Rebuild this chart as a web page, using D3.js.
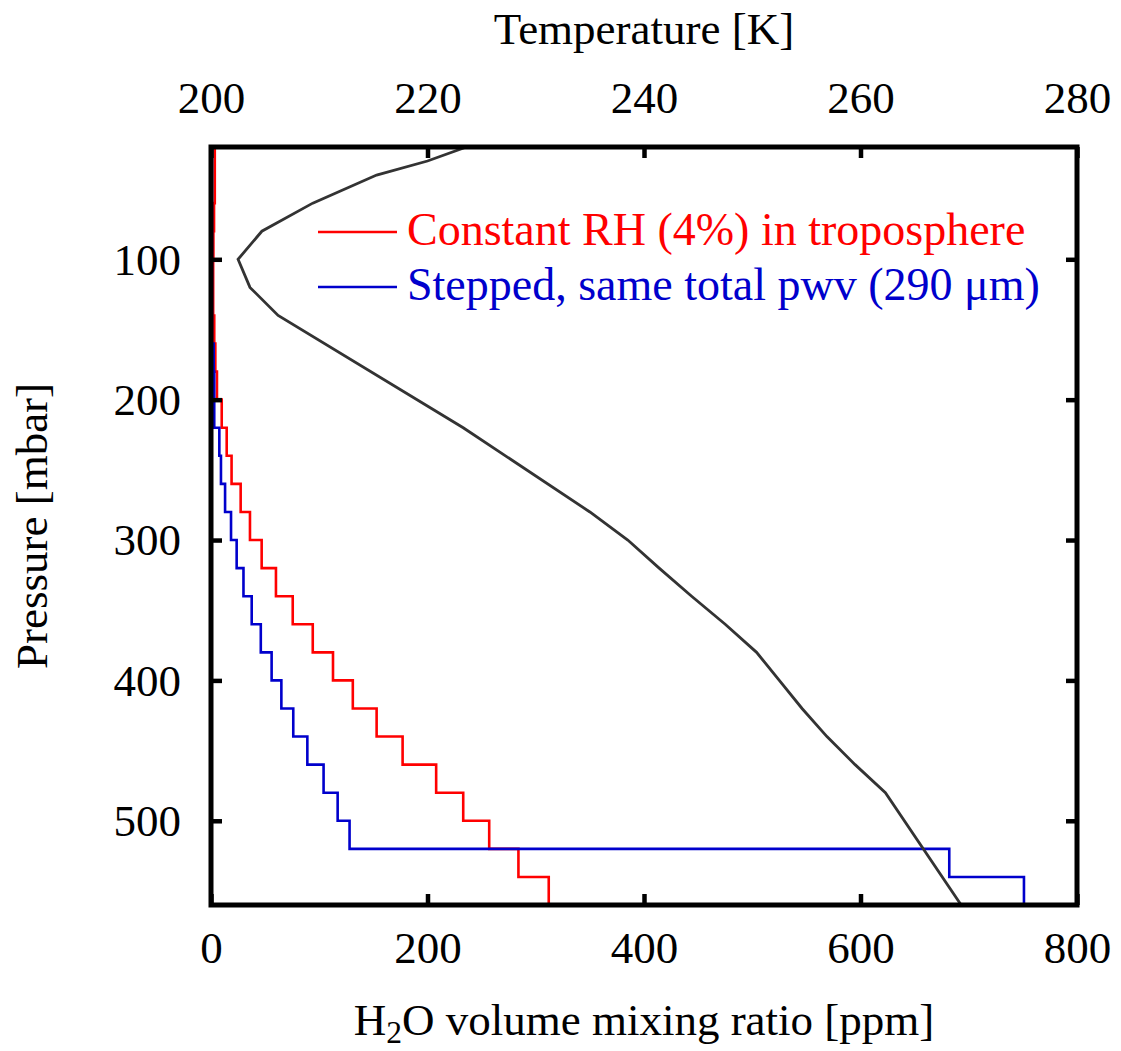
<!DOCTYPE html>
<html>
<head>
<meta charset="utf-8">
<script src="https://cdn.jsdelivr.net/npm/d3@7"></script>
<style>
  body { margin: 0; background: #fff; }
  svg text { font-family: "Liberation Serif", "DejaVu Serif", serif; }
</style>
</head>
<body>
<div id="chart"></div>
<script>
// layer boundaries (mbar), 20 mbar layers from 20 to 560
let layerTops = [20, 40, 60, 80, 100, 120, 140, 160, 180, 200, 220, 240, 260, 280,
  300, 320, 340, 360, 380, 400, 420, 440, 460, 480, 500, 520, 540];
let layerBottoms = [40, 60, 80, 100, 120, 140, 160, 180, 200, 220, 240, 260, 280, 300,
  320, 340, 360, 380, 400, 420, 440, 460, 480, 500, 520, 540, 560];

// H2O mixing ratio per layer [ppm]
let constantRH = [3.5, 3.5, 2.8, 2.2, 2.0, 2.0, 3.0, 4.0, 5.5, 9.9, 14.5, 19, 27.4, 36,
  46.8, 60, 75.5, 94, 112.7, 131, 153, 177, 208, 233, 257, 284, 312];
let stepped = [0.8, 0.8, 0.8, 0.8, 0.8, 0.8, 0.8, 2.5, 3.0, 3.0, 7.7, 9.2, 13, 18.5,
  23.7, 30, 37.6, 46, 56, 65, 76, 89, 104, 117, 128, 682, 751];

// temperature profile
let tempPressure = [20, 30, 40, 60, 80, 100, 120, 140, 220, 280, 300, 320, 340, 360, 380,
  400, 420, 440, 460, 480, 560];
let temperature = [223.6, 220.0, 215.3, 209.4, 204.7, 202.5, 203.6, 206.2, 223.3, 235.0,
  238.5, 241.4, 244.4, 247.5, 250.4, 252.5, 254.6, 256.9, 259.5, 262.3, 269.3];

let pressureTicks = [100, 200, 300, 400, 500];
let ppmTicks = [0, 200, 400, 600, 800];
let tempTicks = [200, 220, 240, 260, 280];

let legendLabels = ["Constant RH (4%) in troposphere", "Stepped, same total pwv (290 \u03bcm)"];
let legendColors = ["#ff0000", "#0000cc"];

let width = 1121;
let height = 1051;
let plotLeft = 211, plotRight = 1077, plotTop = 147, plotBottom = 905;
let fontSize = 45;

let svg = d3.select("#chart").append("svg")
  .attr("width", width)
  .attr("height", height);

let y = d3.scaleLinear().domain([20, 560]).range([plotTop, plotBottom]);
let xPpm = d3.scaleLinear().domain([0, 800]).range([plotLeft, plotRight]);
let xTemp = d3.scaleLinear().domain([200, 280]).range([plotLeft, plotRight]);

let clip = svg.append("clipPath").attr("id", "plot-clip");
clip.append("rect")
  .attr("x", plotLeft).attr("y", plotTop)
  .attr("width", plotRight - plotLeft).attr("height", plotBottom - plotTop);

let plot = svg.append("g").attr("clip-path", "url(#plot-clip)");

function stepPoints(values) {
  let pts = [];
  values.forEach(function(v, i) {
    pts.push([v, layerTops[i]]);
    pts.push([v, layerBottoms[i]]);
  });
  return pts;
}

let stepLine = d3.line()
  .x(function(d) { return xPpm(d[0]); })
  .y(function(d) { return y(d[1]); });

plot.append("path")
  .datum(stepPoints(constantRH))
  .attr("d", stepLine)
  .attr("fill", "none")
  .attr("stroke", legendColors[0])
  .attr("stroke-width", 2.6);

plot.append("path")
  .datum(stepPoints(stepped))
  .attr("d", stepLine)
  .attr("fill", "none")
  .attr("stroke", legendColors[1])
  .attr("stroke-width", 2.6);

let tempLine = d3.line()
  .x(function(d, i) { return xTemp(temperature[i]); })
  .y(function(d) { return y(d); });

plot.append("path")
  .datum(tempPressure)
  .attr("d", tempLine)
  .attr("fill", "none")
  .attr("stroke", "#333333")
  .attr("stroke-width", 2.8);

// axes, ticks pointing inward
function styleAxis(g) {
  g.select(".domain").remove();
  g.selectAll(".tick line").attr("stroke", "#000").attr("stroke-width", 4.5);
  g.selectAll(".tick text")
    .attr("font-family", "Liberation Serif, serif")
    .attr("font-size", fontSize)
    .attr("fill", "#000");
}

svg.append("g")
  .attr("transform", "translate(" + plotLeft + ",0)")
  .call(d3.axisLeft(y).tickValues(pressureTicks).tickSizeInner(-11).tickSizeOuter(0).tickPadding(30))
  .call(styleAxis)
  .selectAll(".tick text").attr("dy", "0.33em");

svg.append("g")
  .attr("transform", "translate(" + plotRight + ",0)")
  .call(d3.axisRight(y).tickValues(pressureTicks).tickSizeInner(-11).tickSizeOuter(0).tickFormat(""))
  .call(styleAxis);

svg.append("g")
  .attr("transform", "translate(0," + plotBottom + ")")
  .call(d3.axisBottom(xPpm).tickValues(ppmTicks).tickSizeInner(-11).tickSizeOuter(0))
  .call(styleAxis)
  .selectAll(".tick text").attr("dy", null).attr("y", 58);

svg.append("g")
  .attr("transform", "translate(0," + plotTop + ")")
  .call(d3.axisTop(xTemp).tickValues(tempTicks).tickSizeInner(-11).tickSizeOuter(0))
  .call(styleAxis)
  .selectAll(".tick text").attr("dy", null).attr("y", -34);

// frame
svg.append("rect")
  .attr("x", plotLeft).attr("y", plotTop)
  .attr("width", plotRight - plotLeft).attr("height", plotBottom - plotTop)
  .attr("fill", "none")
  .attr("stroke", "#000")
  .attr("stroke-width", 5);

// axis titles
svg.append("text")
  .attr("x", (plotLeft + plotRight) / 2)
  .attr("y", 44)
  .attr("text-anchor", "middle")
  .attr("font-size", fontSize)
  .text("Temperature [K]");

let xTitle = svg.append("text")
  .attr("x", (plotLeft + plotRight) / 2)
  .attr("y", 1035)
  .attr("text-anchor", "middle")
  .attr("font-size", fontSize);
xTitle.append("tspan").text("H");
xTitle.append("tspan").attr("font-size", fontSize * 0.7).attr("dy", 8).text("2");
xTitle.append("tspan").attr("dy", -8).text("O volume mixing ratio [ppm]");

svg.append("text")
  .attr("transform", "translate(47," + (plotTop + plotBottom) / 2 + ") rotate(-90)")
  .attr("text-anchor", "middle")
  .attr("font-size", fontSize)
  .text("Pressure [mbar]");

// legend
let legendY = [232, 287];
legendLabels.forEach(function(label, i) {
  svg.append("line")
    .attr("x1", 318).attr("x2", 397)
    .attr("y1", legendY[i]).attr("y2", legendY[i])
    .attr("stroke", legendColors[i])
    .attr("stroke-width", 2.6);
  svg.append("text")
    .attr("x", 407)
    .attr("y", legendY[i] + 13)
    .attr("font-size", 46)
    .attr("fill", legendColors[i])
    .text(label);
});
</script>
</body>
</html>
